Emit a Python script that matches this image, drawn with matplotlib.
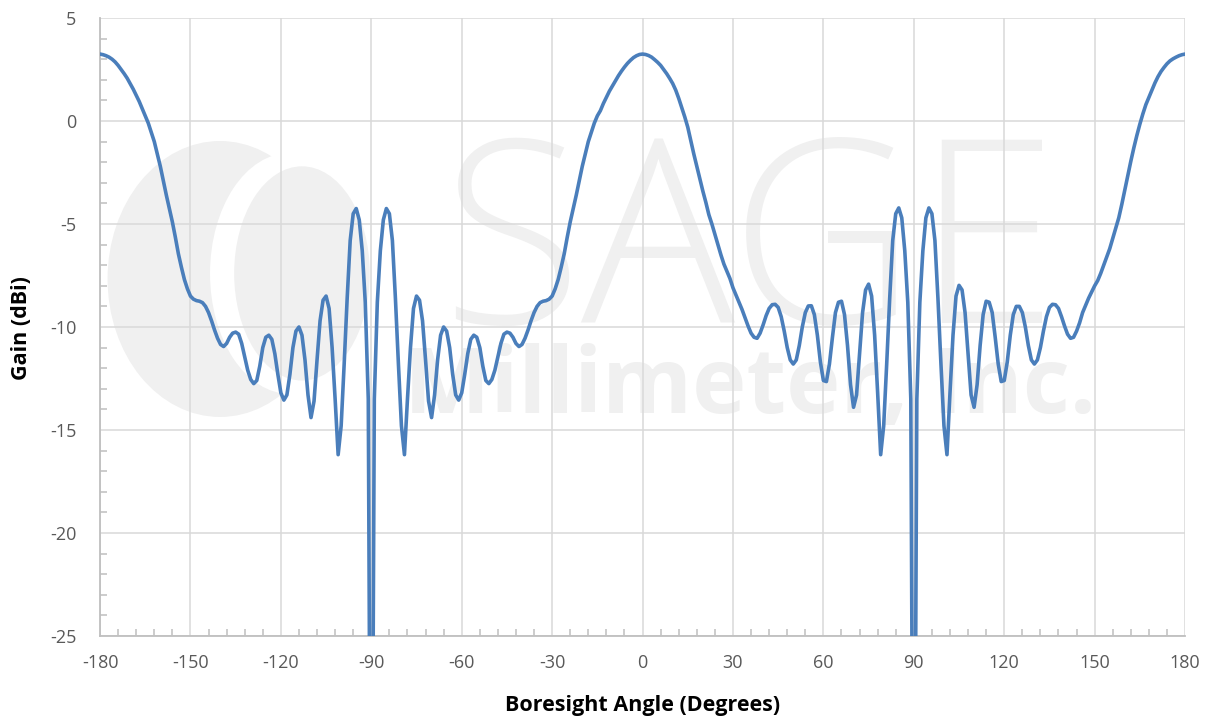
import numpy as np
import matplotlib.pyplot as plt
from matplotlib.patches import Ellipse
from matplotlib.ticker import MultipleLocator

plt.rcParams['axes.unicode_minus'] = False

# boresight angle, 1 degree steps
angles = np.arange(-180, 181)

# gain (dBi), -180 .. -91
gain_q1 = [
    3.25, 3.22, 3.17, 3.10, 3.00, 2.87, 2.70, 2.50, 2.30, 2.08,
    1.82, 1.55, 1.25, 0.95, 0.60, 0.25, -0.10, -0.55, -1.00, -1.60,
    -2.20, -2.90, -3.60, -4.25, -4.90, -5.65, -6.45, -7.10, -7.70, -8.15,
    -8.50, -8.65, -8.72, -8.75, -8.82, -9.00, -9.30, -9.70, -10.15, -10.55,
    -10.85, -10.95, -10.80, -10.50, -10.30, -10.25, -10.35, -10.80, -11.45, -12.10,
    -12.55, -12.75, -12.60, -11.90, -11.00, -10.50, -10.40, -10.60, -11.30, -12.30,
    -13.20, -13.55, -13.30, -12.30, -11.00, -10.20, -10.00, -10.40, -11.60, -13.30,
    -14.40, -13.60, -11.60, -9.70, -8.70, -8.50, -9.10, -11.00, -13.50, -16.20,
    -14.80, -11.80, -8.60, -5.80, -4.50, -4.25, -4.80, -6.30, -8.80, -13.50,
]

# -90 .. -1
gain_q2 = [
    -45.0, -13.50, -8.80, -6.30, -4.80, -4.25, -4.50, -5.80, -8.60, -11.80,
    -14.80, -16.20, -13.50, -11.00, -9.10, -8.50, -8.70, -9.70, -11.60, -13.60,
    -14.40, -13.30, -11.60, -10.40, -10.00, -10.20, -11.00, -12.30, -13.30, -13.55,
    -13.20, -12.30, -11.30, -10.60, -10.40, -10.50, -11.00, -11.90, -12.60, -12.75,
    -12.55, -12.10, -11.45, -10.80, -10.35, -10.25, -10.30, -10.50, -10.80, -10.95,
    -10.85, -10.55, -10.15, -9.70, -9.30, -9.00, -8.82, -8.75, -8.72, -8.65,
    -8.50, -8.15, -7.70, -7.10, -6.45, -5.65, -4.90, -4.25, -3.60, -2.90,
    -2.20, -1.60, -1.00, -0.55, -0.10, 0.25, 0.50, 0.85, 1.15, 1.45,
    1.70, 1.95, 2.20, 2.42, 2.62, 2.80, 2.95, 3.08, 3.17, 3.23,
]

# 0 .. 89
gain_q3 = [
    3.25, 3.23, 3.18, 3.10, 2.98, 2.85, 2.70, 2.50, 2.30, 2.07,
    1.82, 1.50, 1.10, 0.65, 0.20, -0.30, -0.95, -1.60, -2.20, -2.80,
    -3.40, -3.95, -4.55, -5.00, -5.50, -6.00, -6.50, -6.95, -7.30, -7.65,
    -8.10, -8.45, -8.80, -9.15, -9.55, -9.95, -10.30, -10.50, -10.55, -10.30,
    -9.90, -9.45, -9.10, -8.92, -8.90, -9.05, -9.50, -10.20, -11.00, -11.60,
    -11.80, -11.60, -10.90, -10.00, -9.30, -8.98, -8.97, -9.40, -10.40, -11.70,
    -12.60, -12.65, -11.80, -10.50, -9.30, -8.80, -8.75, -9.40, -10.90, -12.80,
    -13.90, -13.30, -11.30, -9.30, -8.20, -7.92, -8.50, -10.40, -13.20, -16.20,
    -14.80, -11.80, -8.60, -5.80, -4.50, -4.22, -4.70, -6.30, -8.80, -13.50,
]

# 90 .. 180
gain_q4 = [
    -45.0, -13.50, -8.80, -6.30, -4.70, -4.22, -4.50, -5.80, -8.60, -11.80,
    -14.80, -16.20, -13.20, -10.40, -8.50, -7.98, -8.20, -9.30, -11.30, -13.30,
    -13.90, -12.80, -10.90, -9.40, -8.75, -8.80, -9.30, -10.50, -11.80, -12.65,
    -12.60, -11.70, -10.40, -9.40, -9.00, -9.00, -9.30, -10.00, -10.90, -11.60,
    -11.80, -11.60, -11.00, -10.20, -9.50, -9.05, -8.90, -8.92, -9.10, -9.50,
    -9.95, -10.35, -10.55, -10.50, -10.20, -9.80, -9.30, -8.95, -8.60, -8.30,
    -8.00, -7.75, -7.40, -7.00, -6.60, -6.20, -5.70, -5.20, -4.70, -4.05,
    -3.35, -2.65, -1.95, -1.30, -0.70, -0.15, 0.35, 0.80, 1.15, 1.50,
    1.85, 2.15, 2.40, 2.60, 2.78, 2.92, 3.02, 3.10, 3.17, 3.22, 3.25,
]

gain = np.concatenate([gain_q1, gain_q2, gain_q3, gain_q4])

x_ticks = np.arange(-180, 181, 30)
y_ticks = np.arange(-25, 6, 5)

line_color = '#4a7ebb'
grid_color = '#d9d9d9'
text_color = '#595959'
mark_color = '#f0f0f0'

fig = plt.figure(figsize=(12.11, 7.21), dpi=100)
ax = fig.add_axes([0.0826, 0.118, 0.896, 0.857])

# faint company watermark behind the grid
ax.add_patch(Ellipse((-140.2, -7.67), 74.6, 13.4, color=mark_color, zorder=0.1, lw=0))
ax.add_patch(Ellipse((-117.0, -7.4), 53.0, 11.7, color='white', zorder=0.15, lw=0))
ax.add_patch(Ellipse((-113.0, -7.4), 45.0, 10.4, color=mark_color, zorder=0.2, lw=0))
ax.text(35.5, -6.6, 'SAGE', fontsize=185, family='Open Sans', weight='light',
        color=mark_color, ha='center', va='center', zorder=0.3)
ax.text(35.5, -13.0, 'Millimeter, Inc.', fontsize=66, family='Open Sans', weight='bold',
        color=mark_color, ha='center', va='center', zorder=0.3)

ax.plot(angles, gain, color=line_color, lw=2.6, zorder=3, solid_joinstyle='round')

ax.set_xlim(-180, 180)
ax.set_ylim(-25, 5)
ax.set_xticks(x_ticks)
ax.set_yticks(y_ticks)
ax.xaxis.set_minor_locator(MultipleLocator(6))
ax.yaxis.set_minor_locator(MultipleLocator(1))
ax.set_axisbelow(True)
ax.grid(True, which='major', color=grid_color, lw=1.1)

for side in ['top', 'right']:
    ax.spines[side].set_visible(False)
for side in ['left', 'bottom']:
    ax.spines[side].set_color('#bfbfbf')
    ax.spines[side].set_linewidth(1.3)

ax.tick_params(which='major', length=0, labelsize=13, labelcolor=text_color)
ax.tick_params(axis='y', which='major', pad=17)
ax.tick_params(axis='x', which='major', pad=13)
ax.tick_params(which='minor', direction='in', length=5, width=1.1, color='#bfbfbf')
for lab in ax.get_xticklabels() + ax.get_yticklabels():
    lab.set_family('Open Sans')

fig.text(643 / 1211, 1 - 705 / 721, 'Boresight Angle (Degrees)', ha='center', va='center',
         fontsize=15.5, weight='bold', family='Open Sans', color='black')
fig.text(22 / 1211, 1 - 328 / 721, 'Gain (dBi)', ha='center', va='center', rotation=90,
         fontsize=15.5, weight='bold', family='Open Sans', color='black')

fig.savefig('out.png', dpi=100)
